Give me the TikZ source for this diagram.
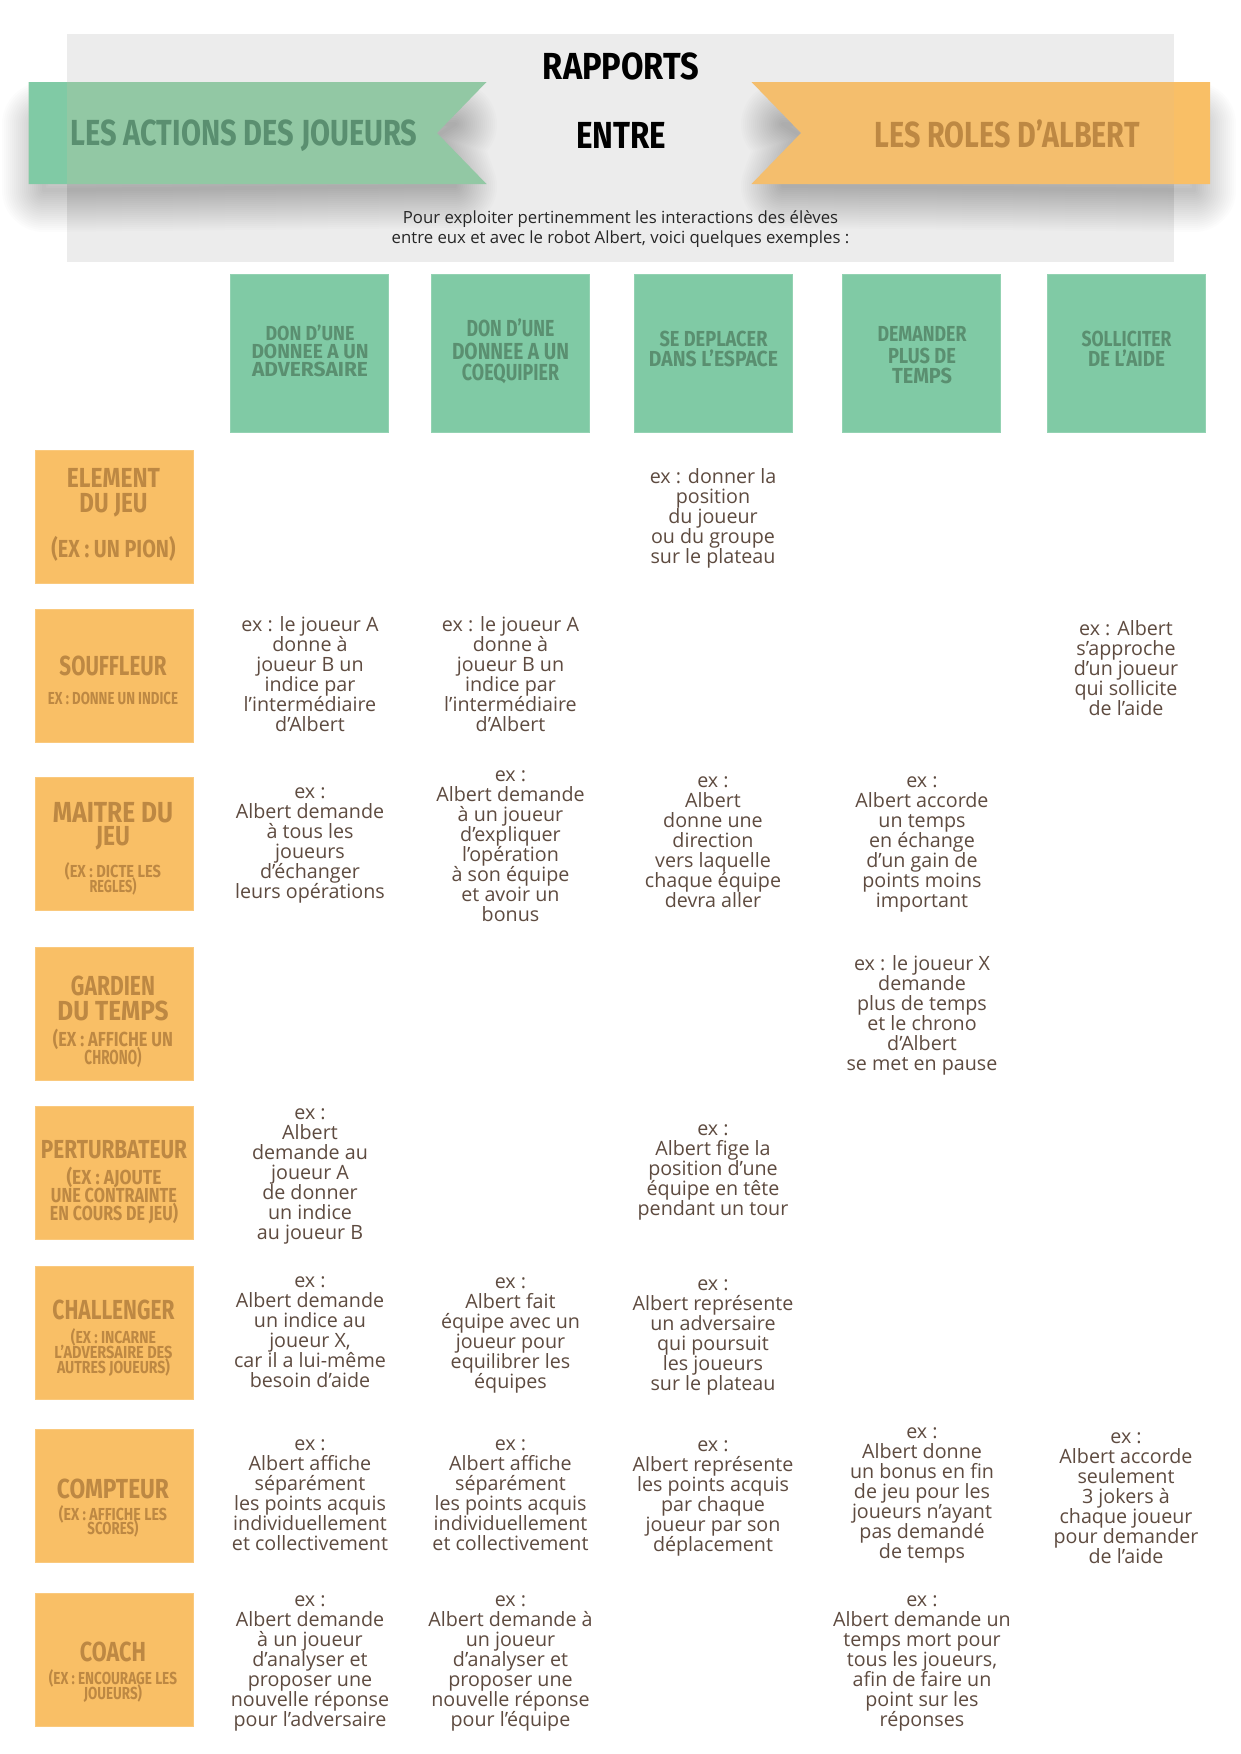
\documentclass[tikz,border=0pt]{standalone}
\usepackage{fontspec}
\usepackage{graphicx}
\setmainfont{Open Sans}
\newfontfamily\dispfont{Fira Sans}
\setlength{\lineskiplimit}{-100pt}
\setlength{\normallineskiplimit}{-100pt}
\definecolor{greenbox}{HTML}{80CAA5}
\definecolor{greenrib}{HTML}{92C8A4}
\definecolor{greentxt}{HTML}{5A8F70}
\definecolor{orangebox}{HTML}{F9BF66}
\definecolor{orangerib}{HTML}{F4BE6D}
\definecolor{orangetxt}{HTML}{BD8843}
\definecolor{panel}{HTML}{ECECEC}
\definecolor{bodytxt}{HTML}{5E4B40}
\tikzset{
  x=1pt,y=-1pt,
  panelrect/.style={fill=panel,draw=none},
  gbox/.style={rectangle,fill=greenbox,draw=greenbox!85!white,line width=.8pt,minimum width=158pt,minimum height=158pt,inner sep=0pt},
  obox/.style={rectangle,fill=orangebox,draw=orangebox!85!white,line width=.8pt,minimum width=158pt,minimum height=133pt,inner sep=0pt},
  cell/.style={inner sep=0pt,align=center,text=bodytxt,font=\fontsize{19.7}{20}\selectfont},
  intro/.style={inner sep=0pt,align=center,text=black!85,font=\fontsize{16.75}{20}\selectfont},
  disp/.style={inner sep=0pt},
  shadowline/.style={draw=black,opacity=.0125,line join=round},
}
\newcommand\dl[6]{\node[disp] (#1) at (#2,#3) {\resizebox{#4pt}{#5pt}{\rule{0pt}{6.9pt}\smash{\dispfont\bfseries #6}}};}
\newcommand\cl[4]{\node[cell] (#1) at (#2,#3) {#4};}
\begin{document}
\begin{tikzpicture}
\useasboundingbox (0,0) rectangle (1240,1754);
\fill[white] (0,0) rectangle (1240,1754);
\fill[panelrect] (67,34) rectangle (1174,262);
% shadows
\foreach \r in {2,4,...,42}{
  \draw[shadowline,line width=2*\r pt] (44,124) -- (455,124) -- (437,136) -- (455,186) -- (44,190) -- cycle;
  \draw[shadowline,line width=2*\r pt] (1194,124) -- (783,124) -- (801,136) -- (783,186) -- (1194,190) -- cycle;
}
% ribbons
\fill[greenrib] (28.5,82) -- (486.5,82) -- (437,133) -- (486.5,184) -- (28.5,184) -- cycle;
\fill[greenbox] (28.5,82) rectangle (67,184);
\fill[orangerib] (1210,82) -- (751.5,82) -- (801,133) -- (751.5,184) -- (1210,184) -- cycle;
\fill[orangebox] (1174,82) rectangle (1210,184);
% header text
\begin{scope}[every node/.append style={text=black}]
\dl{rapports}{621}{66}{156}{26}{RAPPORTS}
\dl{entre}{621}{135}{90}{26}{ENTRE}
\end{scope}
\node[intro] (intro) at (620.5,229.2) {Pour exploiter pertinemment les interactions des élèves\\entre eux et avec le robot Albert, voici quelques exemples :};
\begin{scope}[every node/.append style={text=greentxt}]
\dl{lact}{244}{133}{347}{25}{LES ACTIONS DES JOUEURS}
\end{scope}
\begin{scope}[every node/.append style={text=orangetxt}]
\dl{lrol}{1007}{135}{265}{25}{LES ROLES D’ALBERT}
\end{scope}
% column heads
\node[gbox] (h1) at (309.5,353.5) {};
\node[gbox] (h2) at (510.2,353.5) {};
\node[gbox] (h3) at (713.5,353.5) {};
\node[gbox] (h4) at (921.7,353.5) {};
\node[gbox] (h5) at (1126.3,353.5) {};
\begin{scope}[every node/.append style={text=greentxt}]
\dl{h1a}{310}{333}{89}{14}{DON D’UNE}
\dl{h1b}{310}{351}{117}{14}{DONNEE A UN}
\dl{h1c}{310}{369}{116}{14}{ADVERSAIRE}
\dl{h2a}{510.5}{328}{88}{16}{DON D’UNE}
\dl{h2b}{510.5}{351}{117}{16}{DONNEE A UN}
\dl{h2c}{510.5}{372}{97}{16}{COEQUIPIER}
\dl{h3a}{713.5}{339}{108}{15}{SE DEPLACER}
\dl{h3b}{713.5}{359}{129}{15}{DANS L’ESPACE}
\dl{h4a}{922}{334}{89}{15}{DEMANDER}
\dl{h4b}{922}{355.5}{68}{15}{PLUS DE}
\dl{h4c}{922}{376}{60}{15}{TEMPS}
\dl{h5a}{1126.5}{339}{90}{15}{SOLLICITER}
\dl{h5b}{1126.5}{359}{77}{15}{DE L’AIDE}
\end{scope}
% row heads
\node[obox] (r1) at (114.5,516.5) {};
\node[obox] (r2) at (114.5,675.5) {};
\node[obox] (r3) at (114.5,844) {};
\node[obox] (r4) at (114.5,1013.5) {};
\node[obox] (r5) at (114.5,1173) {};
\node[obox] (r6) at (114.5,1332.5) {};
\node[obox] (r7) at (114.5,1495.5) {};
\node[obox] (r8) at (114.5,1659.5) {};
\begin{scope}[every node/.append style={text=orangetxt}]
\dl{r1a}{113.5}{478}{93}{19}{ELEMENT}
\dl{r1b}{113.5}{503}{68}{19}{DU JEU}
\dl{r1c}{113.5}{549}{124}{17}{(EX : UN PION)}
\dl{r2a}{113}{666}{107}{19}{SOUFFLEUR}
\dl{r2b}{113}{698}{130}{12}{EX : DONNE UN INDICE}
\dl{r3a}{113}{812}{120}{20}{MAITRE DU}
\dl{r3b}{113}{836}{34}{19}{JEU}
\dl{r3c}{113}{871}{96}{12}{(EX : DICTE LES}
\dl{r3d}{113}{886}{47}{12}{REGLES)}
\dl{r4a}{113}{986}{84}{19}{GARDIEN}
\dl{r4b}{113}{1011}{111}{19}{DU TEMPS}
\dl{r4c}{113}{1039}{120}{14}{(EX : AFFICHE UN}
\dl{r4d}{113}{1057}{57}{14}{CHRONO)}
\dl{r5a}{114}{1149}{146}{18}{PERTURBATEUR}
\dl{r5b}{114}{1177}{95}{14}{(EX : AJOUTE}
\dl{r5c}{114}{1195}{126}{14}{UNE CONTRAINTE}
\dl{r5d}{114}{1213}{128}{14}{EN COURS DE JEU)}
\dl{r6a}{113.5}{1310}{122}{19}{CHALLENGER}
\dl{r6b}{113.5}{1337}{85}{12}{(EX : INCARNE}
\dl{r6c}{113.5}{1352}{118}{12}{L’ADVERSAIRE DES}
\dl{r6d}{113.5}{1367}{113}{12}{AUTRES JOUEURS)}
\dl{r7a}{113}{1489}{112}{19}{COMPTEUR}
\dl{r7b}{113}{1514}{108}{12}{(EX : AFFICHE LES}
\dl{r7c}{113}{1528}{51}{12}{SCORES)}
\dl{r8a}{113}{1652}{66}{19}{COACH}
\dl{r8b}{113}{1678}{128}{12}{(EX : ENCOURAGE LES}
\dl{r8c}{113}{1693}{58}{12}{JOUEURS)}
\end{scope}
% cells
\cl{c13}{713}{518.5}{ex : donner la\\position\\du joueur\\ou du groupe\\sur le plateau}
\cl{c21}{310}{674}{ex : le joueur A\\donne à\\joueur B un\\indice par\\l’intermédiaire\\d’Albert}
\cl{c22}{510.5}{674}{ex : le joueur A\\donne à\\joueur B un\\indice par\\l’intermédiaire\\d’Albert}
\cl{c25}{1126}{668}{ex : Albert\\s’approche\\d’un joueur\\qui sollicite\\de l’aide}
\cl{c31}{310}{845.5}{ex :\\Albert demande\\à tous les\\joueurs\\d’échanger\\leurs opérations}
\cl{c32}{510.5}{846}{ex :\\Albert demande\\à un joueur\\d’expliquer\\l’opération\\à son équipe\\et avoir un\\bonus}
\cl{c33}{713}{842}{ex :\\Albert\\donne une\\direction\\vers laquelle\\chaque équipe\\devra aller}
\cl{c34}{922}{844}{ex :\\Albert accorde\\un temps\\en échange\\d’un gain de\\points moins\\important}
\cl{c44}{922}{1015}{ex : le joueur X\\demande\\plus de temps\\et le chrono\\d’Albert\\se met en pause}
\cl{c51}{310}{1176}{ex :\\Albert\\demande au\\joueur A\\de donner\\un indice\\au joueur B}
\cl{c53}{713}{1172.5}{ex :\\Albert fige la\\position d’une\\équipe en tête\\pendant un tour}
\cl{c61}{310}{1332.5}{ex :\\Albert demande\\un indice au\\joueur X,\\car il a lui-même\\besoin d’aide}
\cl{c62}{510.5}{1335.5}{ex :\\Albert fait\\équipe avec un\\joueur pour\\equilibrer les\\équipes}
\cl{c63}{713}{1337}{ex :\\Albert représente\\un adversaire\\qui poursuit\\les joueurs\\sur le plateau}
\cl{c71}{310}{1495.5}{ex :\\Albert affiche\\séparément\\les points acquis\\individuellement\\et collectivement}
\cl{c72}{510.5}{1495.5}{ex :\\Albert affiche\\séparément\\les points acquis\\individuellement\\et collectivement}
\cl{c73}{713}{1498}{ex :\\Albert représente\\les points acquis\\par chaque\\joueur par son\\déplacement}
\cl{c74}{922}{1495.5}{ex :\\Albert donne\\un bonus en fin\\de jeu pour les\\joueurs n’ayant\\pas demandé\\de temps}
\cl{c75}{1126}{1498}{ex :\\Albert accorde\\seulement\\3 jokers à\\chaque joueur\\pour demander\\de l’aide}
\cl{c81}{310}{1663.5}{ex :\\Albert demande\\à un joueur\\d’analyser et\\proposer une\\nouvelle réponse\\pour l’adversaire}
\cl{c82}{510.5}{1663.5}{ex :\\Albert demande à\\un joueur\\d’analyser et\\proposer une\\nouvelle réponse\\pour l’équipe}
\cl{c84}{922}{1663.5}{ex :\\Albert demande un\\temps mort pour\\tous les joueurs,\\afin de faire un\\point sur les\\réponses}
\end{tikzpicture}
\end{document}
